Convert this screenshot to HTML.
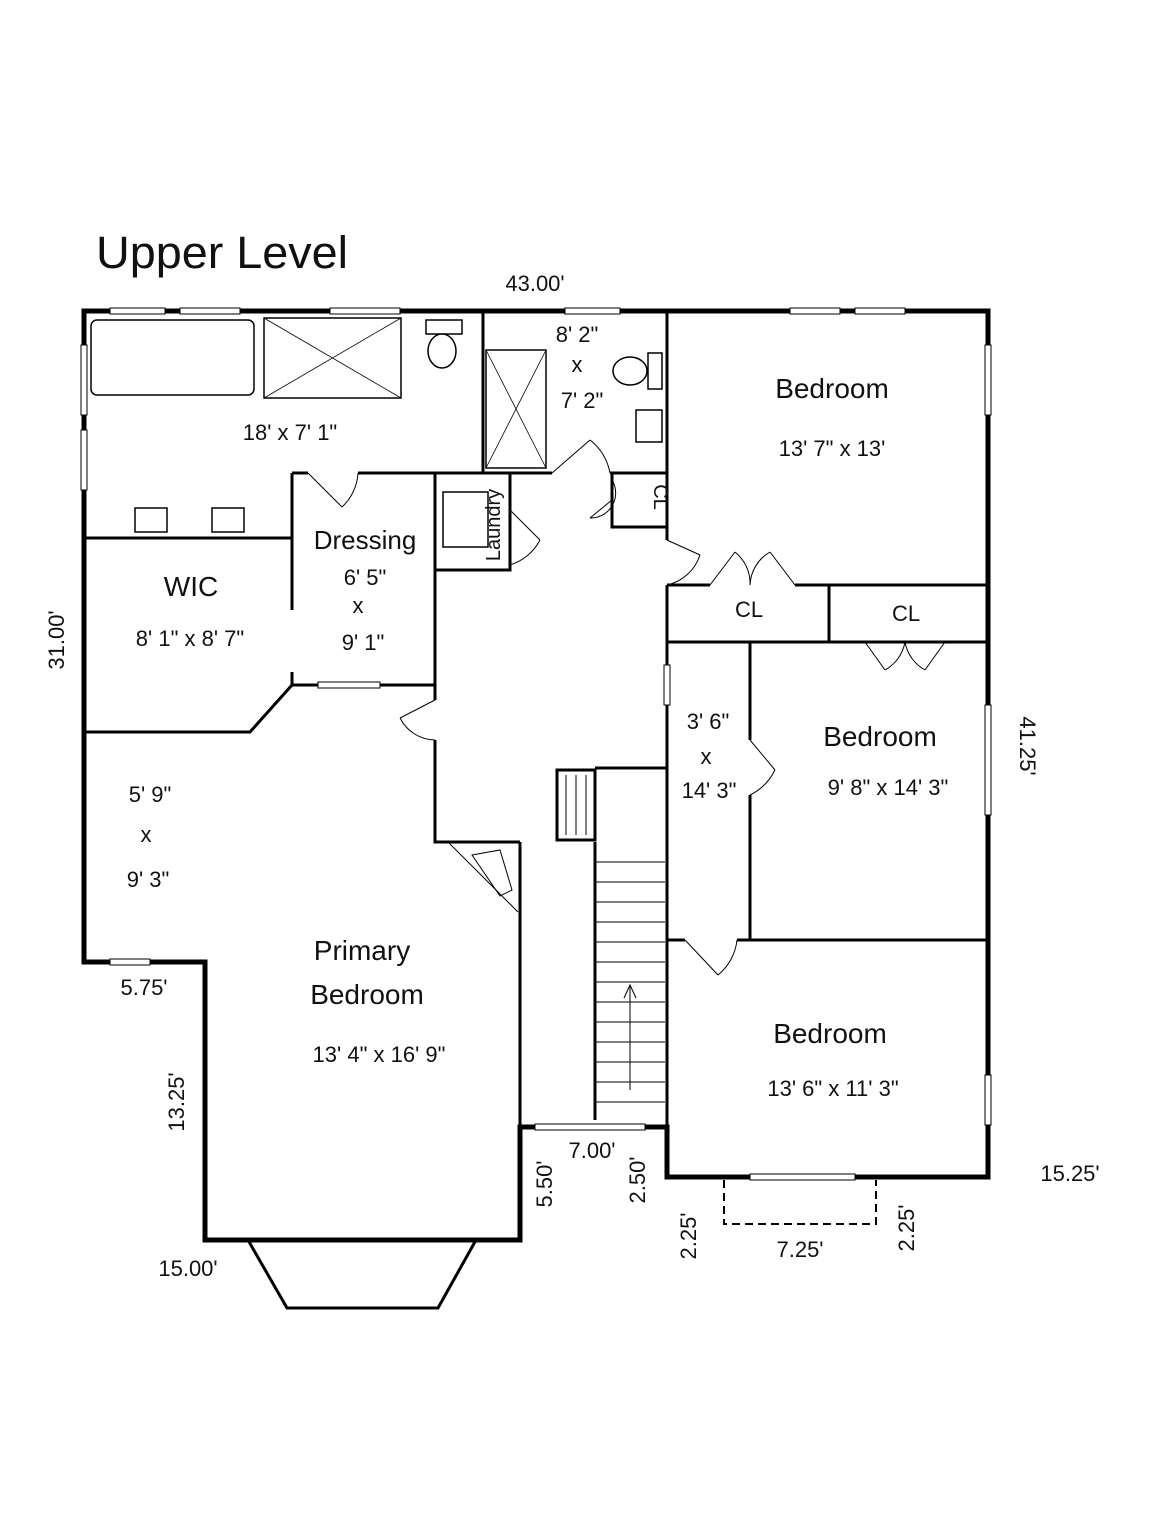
<!DOCTYPE html>
<html><head><meta charset="utf-8"><style>
html,body{margin:0;padding:0;background:#fff;}
svg{display:block}
text{font-family:"Liberation Sans",Arial,sans-serif;fill:#111}
</style></head><body>
<svg width="1152" height="1536" viewBox="0 0 1152 1536" xmlns="http://www.w3.org/2000/svg">
<rect width="1152" height="1536" fill="#fff"/>
<text x="96" y="268" font-size="45" textLength="252" lengthAdjust="spacingAndGlyphs">Upper Level</text>

<g stroke="#000" stroke-width="5" fill="none" stroke-linecap="square">
<path d="M84 311 H988 V1177 H667 V1127 H520 V1240 H205 V962 H84 Z"/>
</g>
<g fill="#fff" stroke="#000" stroke-width="1">
<rect x="110" y="308" width="55" height="6"/><rect x="180" y="308" width="60" height="6"/>
<rect x="330" y="308" width="70" height="6"/><rect x="565" y="308" width="55" height="6"/>
<rect x="790" y="308" width="50" height="6"/><rect x="855" y="308" width="50" height="6"/>
<rect x="81" y="345" width="6" height="70"/><rect x="81" y="430" width="6" height="60"/>
<rect x="985" y="345" width="6" height="70"/><rect x="985" y="705" width="6" height="110"/>
<rect x="985" y="1075" width="6" height="50"/><rect x="110" y="959" width="40" height="6"/>
<rect x="535" y="1124" width="110" height="6"/><rect x="750" y="1174" width="105" height="6"/>
</g>
<g stroke="#000" stroke-width="3" fill="none">
<path d="M248 1240 L287 1308 H438 L476 1240"/>
</g>
<path d="M724 1180 V1224 H876 V1180" stroke="#000" stroke-width="2" stroke-dasharray="8,5" fill="none"/>

<g stroke="#000" stroke-width="3" fill="none">
<path d="M84 538 H292"/>
<path d="M483 311 V473"/>
<path d="M292 473 H308 M358 473 H552 M610 473 H667"/>
<path d="M292 473 V610 M292 672 V685 H435"/>
<path d="M435 473 V700 M435 740 V842 H520"/>
<path d="M435 473 V570 H510 V473"/>
<path d="M667 311 V540 M667 585 V665 M667 705 V1177"/>
<path d="M612 473 V527 H667"/>
<path d="M667 585 H710 M795 585 H988 M667 642 H988 M829 585 V642"/>
<path d="M750 642 V740 M750 795 V940"/>
<path d="M667 940 H685 M737 940 H988"/>
<path d="M520 842 V1127 M595 842 V1120"/>
<path d="M557 770 H595 V840 H557 Z"/>
<path d="M595 768 H667"/>
<path d="M84 732 H250 L292 685"/>
</g>
<g stroke="#000" stroke-width="1">
<path d="M595 862 H665 M595 882 H665 M595 902 H665 M595 922 H665 M595 942 H665 M595 962 H665 M595 982 H665 M595 1002 H665 M595 1022 H665 M595 1042 H665 M595 1062 H665 M595 1082 H665 M595 1102 H665"/>
<path d="M630 1090 V985 M624 998 L630 985 L636 998" fill="none"/>
<path d="M566 775 V835 M576 775 V835 M586 775 V835"/>
</g>
<g stroke="#000" stroke-width="1" fill="none">
<path d="M308 473 L342 507 M358 473 A50 50 0 0 1 342 507"/>
<path d="M552 473 L590 440 M610 473 A55 55 0 0 0 590 440"/>
<path d="M612 500 L590 518 M612 480 A25 25 0 0 1 590 518"/>
<path d="M510 510 L540 540 M510 565 A50 50 0 0 0 540 540"/>
<path d="M667 540 L700 555 M667 585 A45 45 0 0 0 700 555"/>
<path d="M710 585 L735 552 M750 585 A40 40 0 0 0 735 552 M795 585 L770 552 M750 585 A40 40 0 0 1 770 552"/>
<path d="M865 642 L885 670 M905 642 A40 40 0 0 1 885 670 M945 642 L925 670 M905 642 A40 40 0 0 0 925 670"/>
<path d="M435 700 L400 718 M435 740 A40 40 0 0 1 400 718"/>
<path d="M750 740 L775 770 M750 795 A55 55 0 0 0 775 770"/>
<path d="M685 940 L718 975 M737 940 A52 52 0 0 1 718 975"/>
<path d="M448 842 L518 912"/>
<path d="M472 855 L500 850 L512 890 L500 896 Z"/>
<rect x="318" y="682" width="62" height="6" fill="#fff"/>
<rect x="664" y="665" width="6" height="40" fill="#fff"/>
</g>
<g stroke="#000" stroke-width="1.5" fill="#fff">
<rect x="91" y="320" width="163" height="75" rx="6"/>
<rect x="264" y="318" width="137" height="80"/>
<path d="M264 318 L401 398 M401 318 L264 398" stroke-width="0.8"/>
<rect x="486" y="350" width="60" height="118"/>
<path d="M486 350 L546 468 M546 350 L486 468" stroke-width="0.8"/>
<rect x="426" y="320" width="36" height="14"/><ellipse cx="442" cy="351" rx="14" ry="17"/>
<rect x="648" y="353" width="14" height="36"/><ellipse cx="630" cy="371" rx="17" ry="14"/>
<rect x="636" y="410" width="26" height="32"/>
<rect x="135" y="508" width="32" height="24"/><rect x="212" y="508" width="32" height="24"/>
<rect x="443" y="492" width="45" height="55"/>
</g>

<g font-size="24" text-anchor="middle">
<text x="290" y="440" font-size="22">18' x 7' 1"</text>
<text x="577" y="342" font-size="22">8' 2"</text>
<text x="577" y="372" font-size="22">x</text>
<text x="582" y="408" font-size="22">7' 2"</text>
<text x="832" y="398" font-size="28">Bedroom</text>
<text x="832" y="456" font-size="22">13' 7" x 13'</text>
<text x="365" y="549" font-size="26">Dressing</text>
<text x="365" y="585" font-size="22">6' 5"</text>
<text x="358" y="613" font-size="22">x</text>
<text x="363" y="650" font-size="22">9' 1"</text>
<text x="191" y="596" font-size="28">WIC</text>
<text x="190" y="646" font-size="22">8' 1" x 8' 7"</text>
<text x="749" y="617" font-size="22">CL</text>
<text x="906" y="621" font-size="22">CL</text>
<text x="880" y="746" font-size="28">Bedroom</text>
<text x="888" y="795" font-size="22">9' 8" x 14' 3"</text>
<text x="708" y="729" font-size="22">3' 6"</text>
<text x="706" y="764" font-size="22">x</text>
<text x="709" y="798" font-size="22">14' 3"</text>
<text x="150" y="802" font-size="22">5' 9"</text>
<text x="146" y="842" font-size="22">x</text>
<text x="148" y="887" font-size="22">9' 3"</text>
<text x="362" y="960" font-size="28">Primary</text>
<text x="367" y="1004" font-size="28">Bedroom</text>
<text x="379" y="1062" font-size="22">13' 4" x 16' 9"</text>
<text x="830" y="1043" font-size="28">Bedroom</text>
<text x="833" y="1096" font-size="22">13' 6" x 11' 3"</text>
</g>
<text transform="translate(654,497) rotate(90)" font-size="20" text-anchor="middle">CL</text>
<text transform="translate(500,525) rotate(-90)" font-size="20" text-anchor="middle">Laundry</text>

<g font-size="22" text-anchor="middle">
<text x="535" y="291">43.00'</text>
<text transform="translate(64,640) rotate(-90)">31.00'</text>
<text transform="translate(1020,746) rotate(90)">41.25'</text>
<text x="144" y="995">5.75'</text>
<text transform="translate(184,1102) rotate(-90)">13.25'</text>
<text x="188" y="1276">15.00'</text>
<text x="592" y="1158">7.00'</text>
<text transform="translate(552,1184) rotate(-90)">5.50'</text>
<text transform="translate(645,1180) rotate(-90)">2.50'</text>
<text x="1070" y="1181">15.25'</text>
<text transform="translate(696,1236) rotate(-90)">2.25'</text>
<text x="800" y="1257">7.25'</text>
<text transform="translate(914,1228) rotate(-90)">2.25'</text>
</g>
</svg>
</body></html>
